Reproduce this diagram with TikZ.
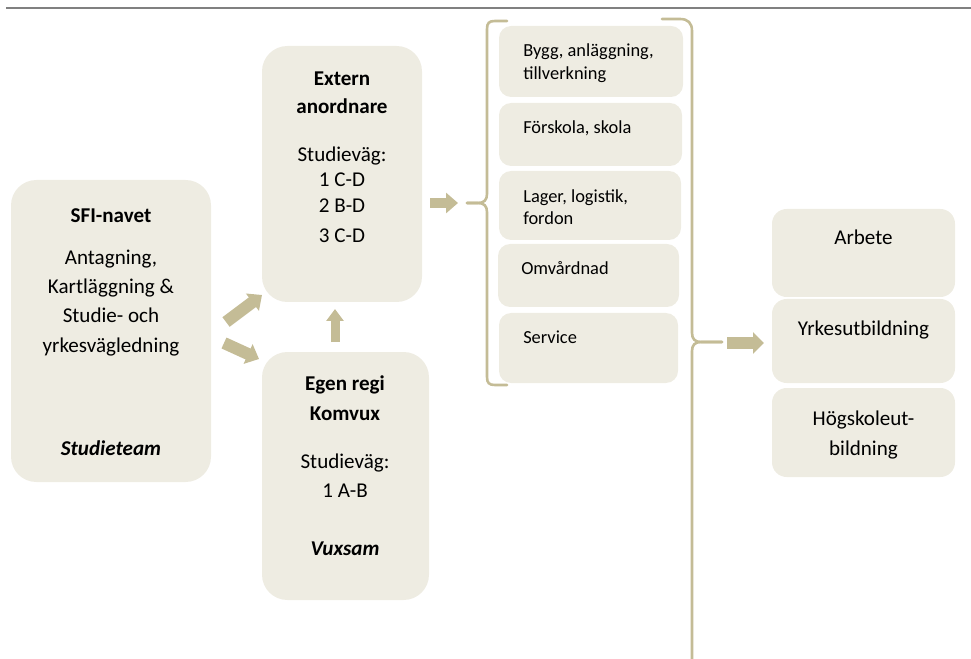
\documentclass[tikz,border=0pt]{standalone}
\usepackage{fontspec}
\setmainfont{Carlito}
\usetikzlibrary{arrows.meta}
\definecolor{boxfill}{RGB}{238,236,226}
\definecolor{tanc}{RGB}{196,188,150}
\definecolor{rulec}{RGB}{128,128,128}
\newcommand\mkbox[6]{\node[boxsty, rounded corners=#6, anchor=north west, minimum width={(#4-#2)*0.75pt}, minimum height={(#5-#3)*0.75pt}] (#1) at (#2,#3) {};}
\begin{document}
\begin{tikzpicture}[x=0.75pt,y=-0.75pt,
  boxsty/.style={fill=boxfill, draw=none, inner sep=0pt, outer sep=0pt},
  maintxt/.style={font=\fontsize{15.8pt}{19pt}\selectfont, anchor=base, inner sep=0pt, text=black},
  smalltxt/.style={font=\fontsize{13.8pt}{17pt}\selectfont, anchor=base west, inner sep=0pt, text=black},
  blk/.style={draw=tanc, line cap=butt, line width=#1*0.75pt},
  brk/.style={draw=tanc, line width=2.6*0.75pt, line cap=round}]
\useasboundingbox (0,0) rectangle (971,659);
% top rule
\coordinate (rl) at (6,8);
\coordinate (rr) at (971,8);
\draw[rulec, line width=1.7pt] (rl) -- (rr);

% boxes
\mkbox{sfi}{11}{180}{211}{482}{19pt}
\mkbox{ext}{262}{46}{422}{302}{19pt}
\mkbox{egen}{262}{352}{429}{600}{19pt}
\mkbox{bygg}{499}{26}{683}{97}{9pt}
\mkbox{forsk}{499}{103}{682}{166}{9pt}
\mkbox{lager}{499}{171}{681}{240}{9pt}
\mkbox{omv}{498}{244}{679}{307}{9pt}
\mkbox{serv}{499}{313}{678}{383}{9pt}
\mkbox{arb}{772}{209}{955}{297}{11pt}
\mkbox{yrk}{772}{299}{955}{383}{11pt}
\mkbox{hog}{772}{388}{955}{477}{11pt}

% SFI text
\node[maintxt] (s1) at (111,223) {\bfseries SFI-navet};
\node[maintxt] (s2) at (111,265) {Antagning,};
\node[maintxt] (s3) at (111,294) {Kartläggning \&};
\node[maintxt] (s4) at (111,323) {Studie- och};
\node[maintxt] (s5) at (111,352) {yrkesvägledning};
\node[maintxt] (s6) at (111,455) {\bfseries\itshape Studieteam};
% Extern text
\node[maintxt] (e1) at (342,86) {\bfseries Extern};
\node[maintxt] (e2) at (342,114) {\bfseries anordnare};
\node[maintxt] (e3) at (342,162) {Studieväg:};
\node[maintxt] (e4) at (342,187) {1 C-D};
\node[maintxt] (e5) at (342,213) {2 B-D};
\node[maintxt] (e6) at (342,243) {3 C-D};
% Egen regi text
\node[maintxt] (g1) at (345,390) {\bfseries Egen regi};
\node[maintxt] (g2) at (345,420) {\bfseries Komvux};
\node[maintxt] (g3) at (345,468) {Studieväg:};
\node[maintxt] (g4) at (345,497) {1 A-B};
\node[maintxt] (g5) at (345,555) {\bfseries\itshape Vuxsam};
% small boxes text
\node[smalltxt] (b1) at (523,57) {Bygg, anläggning,};
\node[smalltxt] (b2) at (523,80) {tillverkning};
\node[smalltxt] (f1) at (523,134) {Förskola, skola};
\node[smalltxt] (l1) at (523,203) {Lager, logistik,};
\node[smalltxt] (l2) at (523,225) {fordon};
\node[smalltxt] (o1) at (521,275) {Omvårdnad};
\node[smalltxt] (v1) at (523,344) {Service};
% right boxes text
\node[maintxt] (r1) at (863.5,245) {Arbete};
\node[maintxt] (r2) at (863.5,335) {Yrkesutbildning};
\node[maintxt] (r3) at (863.5,425) {Högskoleut-};
\node[maintxt] (r4) at (863.5,455) {bildning};

% block arrows
\coordinate (a1s) at (226,322); \coordinate (a1e) at (262,295);
\coordinate (a2s) at (224,343); \coordinate (a2e) at (259,359);
\coordinate (a3s) at (335,342); \coordinate (a3e) at (335,309);
\coordinate (a4s) at (430,203); \coordinate (a4e) at (458,203);
\coordinate (a5s) at (727,343); \coordinate (a5e) at (764,343);
\draw[blk=12, -{Triangle[width=21*0.75pt, length=12*0.75pt]}, tanc] (a1s) -- (a1e);
\draw[blk=12, -{Triangle[width=21*0.75pt, length=12*0.75pt]}, tanc] (a2s) -- (a2e);
\draw[blk=9, -{Triangle[width=17*0.75pt, length=12*0.75pt]}, tanc] (a3s) -- (a3e);
\draw[blk=10, -{Triangle[width=20*0.75pt, length=12*0.75pt]}, tanc] (a4s) -- (a4e);
\draw[blk=12, -{Triangle[width=21*0.75pt, length=11*0.75pt]}, tanc] (a5s) -- (a5e);

% left bracket
\coordinate (lbt) at (507,21);
\coordinate (lbtip) at (467,203);
\coordinate (lbb) at (507,385);
\draw[brk] (lbt) -- (495,21) .. controls (489,21) and (487,23) .. (487,29)
  -- (487,194) .. controls (487,200) and (484,203) .. (478,203) -- (lbtip);
\draw[brk] (lbtip) -- (478,203) .. controls (484,203) and (487,206) .. (487,212)
  -- (487,377) .. controls (487,383) and (489,385) .. (495,385) -- (lbb);
% right bracket
\coordinate (rbt) at (662,19);
\coordinate (rbtip) at (722,342);
\coordinate (rbb) at (692,659);
\draw[brk] (rbt) -- (680,19) .. controls (688,19) and (692,23) .. (692,31)
  -- (692,333) .. controls (692,339) and (695,342) .. (701,342) -- (rbtip);
\draw[brk] (rbtip) -- (701,342) .. controls (695,342) and (692,345) .. (692,351)
  -- (rbb);
\end{tikzpicture}
\end{document}
